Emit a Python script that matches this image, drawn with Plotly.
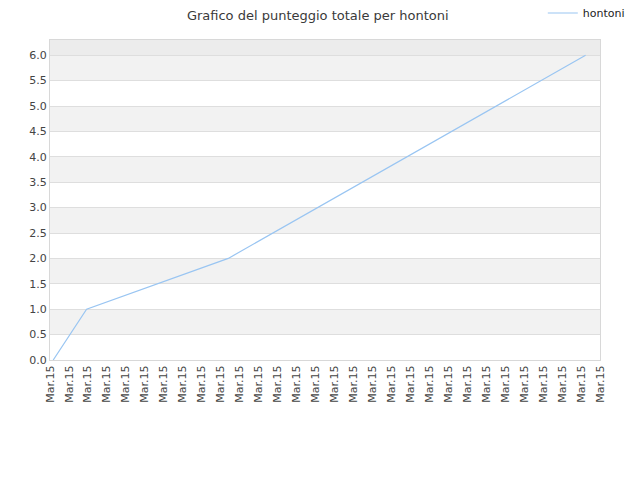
import plotly.graph_objects as go

# Data
x_pos = [0.17, 1.93, 9.4, 28.24]
scores = [0, 1.0, 2.0, 6.0]
tick_positions = list(range(30))
tick_labels = ["Mar.15"] * 30
series_name = "hontoni"
title = "Grafico del punteggio totale per hontoni"

fig = go.Figure()
fig.add_trace(go.Scatter(
    x=x_pos, y=scores, mode="lines", name=series_name,
    line=dict(color="#99c5f2", width=1.2),
))

shapes = []
band_starts = [0.5, 1.5, 2.5, 3.5, 4.5, 5.5]
for b in band_starts:
    shapes.append(dict(type="rect", xref="paper", yref="y", x0=0, x1=1, y0=b, y1=b + 0.5,
                       fillcolor="#f2f2f2", line=dict(width=0), layer="below"))
shapes.append(dict(type="rect", xref="paper", yref="y", x0=0, x1=1, y0=6.0, y1=6.3,
                   fillcolor="#ececec", line=dict(width=0), layer="below"))

fig.update_layout(
    width=640, height=480,
    margin=dict(l=42, r=48, t=32, b=128, autoexpand=False),
    paper_bgcolor="white", plot_bgcolor="white",
    font=dict(family="DejaVu Sans", size=11, color="#444444"),
    title=dict(text=title, x=0.484, xanchor="center", y=1 - 7.5 / 480, yanchor="middle",
               font=dict(size=13, color="#3a3a3a")),
    showlegend=True,
    legend=dict(x=0.896, xanchor="left", y=1 - 5 / 480, yref="container", yanchor="middle",
                font=dict(size=11, color="#222222"), bgcolor="rgba(0,0,0,0)"),
    shapes=shapes,
    xaxis=dict(range=[0, 29], tickmode="array", tickvals=tick_positions, ticktext=tick_labels,
               tickangle=-90, showgrid=False, showline=True, linecolor="#d8d8d8", mirror=True,
               ticks="", zeroline=False, automargin=False,
               tickfont=dict(size=11, color="#444444")),
    yaxis=dict(range=[0, 6.3], tickmode="array", tickvals=[i * 0.5 for i in range(13)],
               ticktext=[f"{i*0.5:.1f}" for i in range(13)],
               showgrid=True, gridcolor="#dedede", gridwidth=1, showline=True,
               linecolor="#d8d8d8", mirror=True, zeroline=False, ticks="", automargin=False,
               tickfont=dict(size=11, color="#444444")),
)

fig.write_html("out.html")
